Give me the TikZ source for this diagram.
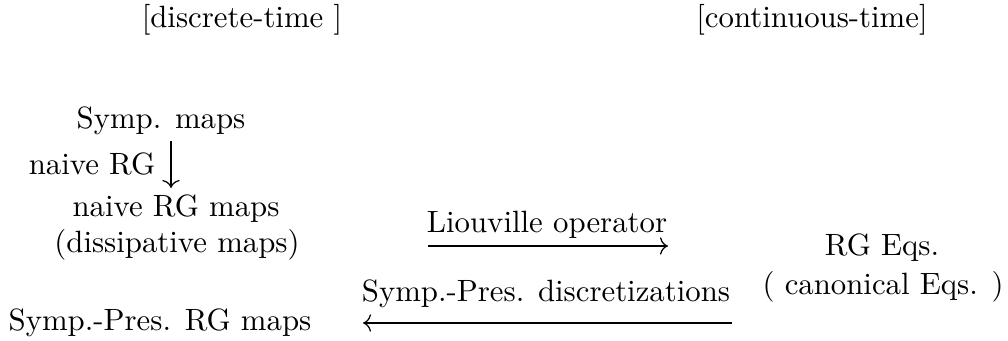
\documentclass[tikz,border=0pt]{standalone}
\usetikzlibrary{arrows.meta}
\begin{document}
\begin{tikzpicture}[x={(0.3247pt,0pt)},y={(0pt,-0.3247pt)},
  lbl/.style={anchor=base,inner sep=0pt},
  arr/.style={-{To[length=2.6pt,width=5.6pt]},line width=0.4pt}]
\useasboundingbox (0,0) rectangle (1008,341);
\node[lbl] (dt) at (242,28) {[discrete-time ]};
\node[lbl] (ct) at (812,28) {[continuous-time]};
\node[lbl] (sm) at (161,128) {Symp. maps};
\node[lbl] (nrg) at (92,175) {naive RG};
\node[lbl] (nrgm) at (176,216) {naive RG maps};
\node[lbl] (dm) at (177,252) {(dissipative maps)};
\node[lbl] (spr) at (160,330) {Symp.-Pres. RG maps};
\node[lbl] (lo) at (547,232) {Liouville operator};
\node[lbl] (spd) at (546,301) {Symp.-Pres. discretizations};
\node[lbl] (rge) at (882,255) {RG Eqs.};
\node[lbl] (ce) at (883,294) {( canonical Eqs. )};
\coordinate (d1) at (171,141);
\coordinate (d2) at (171,188);
\coordinate (a1) at (428,246);
\coordinate (a2) at (668,246);
\coordinate (b1) at (732,323);
\coordinate (b2) at (363,323);
\draw[arr] (d1) -- (d2);
\draw[arr] (a1) -- (a2);
\draw[arr] (b1) -- (b2);
\end{tikzpicture}
\end{document}
